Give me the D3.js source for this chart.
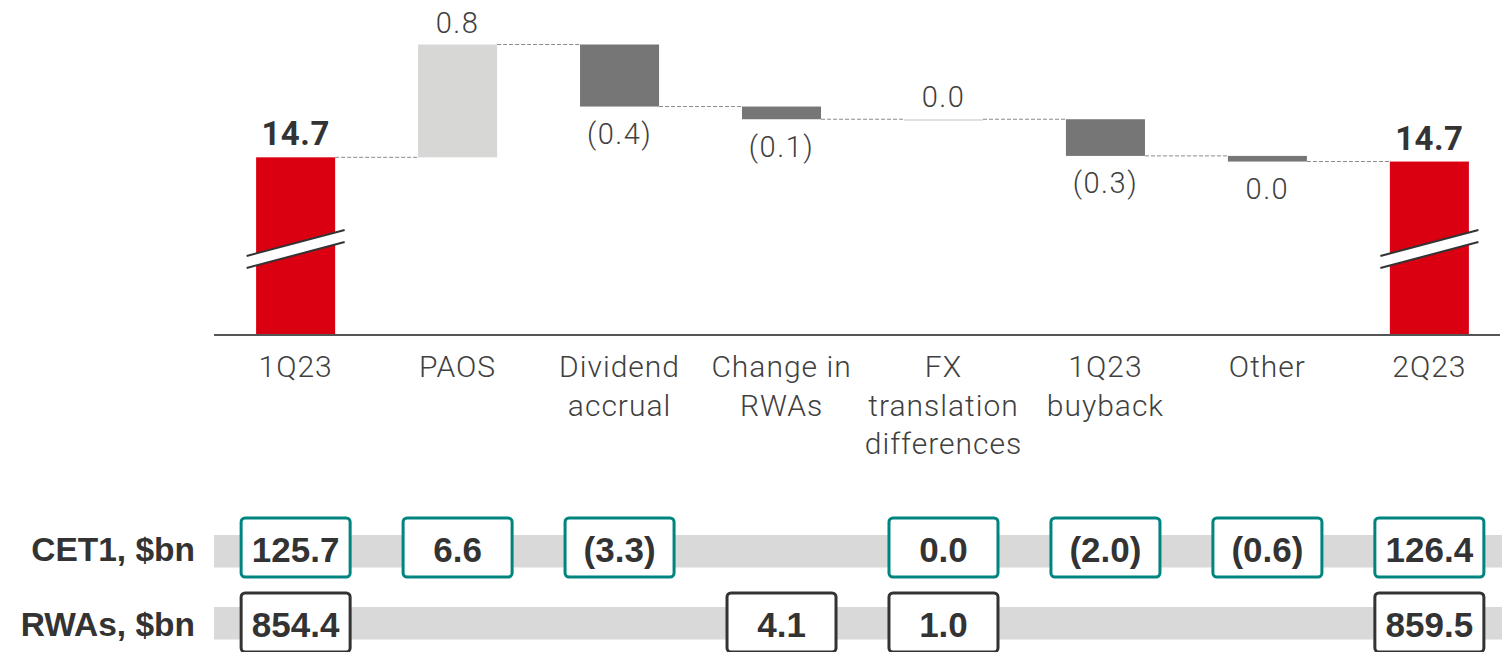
<!DOCTYPE html>
<html>
<head>
<meta charset="utf-8">
<script src="https://cdn.jsdelivr.net/npm/d3@7"></script>
<style>
  body { margin: 0; background: #fff; }
  svg { display: block; }
</style>
</head>
<body>
<svg></svg>
<script>
// categories and values (CET1 ratio walk, %)
var categories = ["1Q23", "PAOS", "Dividend accrual", "Change in RWAs", "FX translation differences", "1Q23 buyback", "Other", "2Q23"];
var labelLines = [["1Q23"], ["PAOS"], ["Dividend", "accrual"], ["Change in", "RWAs"], ["FX", "translation", "differences"], ["1Q23", "buyback"], ["Other"], ["2Q23"]];
var isTotal = [true, false, false, false, false, false, false, true];
var values = [14.72, 0.80, -0.44, -0.09, 0.00, -0.26, -0.04, 14.69];

// table rows under the chart
var cet1Values = [125.7, 6.6, -3.3, null, 0.0, -2.0, -0.6, 126.4];
var rwaValues = [854.4, null, null, 4.1, 1.0, null, null, 859.5];

var svgWidth = 1502, svgHeight = 652;
var axisY = 335;

var svg = d3.select("svg")
            .attr("width", svgWidth)
            .attr("height", svgHeight);

var x = d3.scaleBand()
          .domain(categories)
          .range([214, 1511])
          .paddingInner(0.512)
          .paddingOuter(0.26);

// axis is broken (see marks on total bars), so it starts near 13.46
var y = d3.scaleLinear()
          .domain([13.46, 15.52])
          .range([axisY, 44.5]);

function fmt(v) {
  var r = Math.round(v * 10) / 10;
  var s = d3.format(".1f")(Math.abs(r));
  return r < 0 ? "(" + s + ")" : s;
}

// build the walk
var running = 0;
var steps = values.map(function(v, i) {
  var s;
  if (isTotal[i]) {
    s = {cat: categories[i], v: v, from: y.domain()[0], to: v, total: true};
    running = v;
  } else {
    s = {cat: categories[i], v: v, from: running, to: running + v, total: false};
    running = running + v;
  }
  s.level = s.to;
  return s;
});

var chart = svg.append("g");

// connectors
chart.selectAll("line.conn")
     .data(steps.slice(0, -1))
     .enter()
     .append("line")
     .attr("x1", function(d) {return x(d.cat) + x.bandwidth();})
     .attr("x2", function(d, i) {return x(categories[i + 1]);})
     .attr("y1", function(d) {return y(d.level);})
     .attr("y2", function(d) {return y(d.level);})
     .attr("stroke", "#8a8a8a")
     .attr("stroke-width", 1)
     .attr("stroke-dasharray", "4,2");

// bars
chart.selectAll("rect.bar")
     .data(steps)
     .enter()
     .append("rect")
     .attr("x", function(d) {return x(d.cat);})
     .attr("width", x.bandwidth())
     .attr("y", function(d) {return Math.min(y(d.from), y(d.to));})
     .attr("height", function(d) {return Math.max(Math.abs(y(d.from) - y(d.to)), 1.5);})
     .attr("fill", function(d) {
       if (d.total) return "#db0011";
       return d.v >= 0 ? "#d7d7d5" : "#767676";
     });

// axis line
chart.append("line")
     .attr("x1", 214).attr("x2", 1500)
     .attr("y1", axisY).attr("y2", axisY)
     .attr("stroke", "#555")
     .attr("stroke-width", 2);

// break marks on total bars
var breaks = chart.selectAll("g.brk")
     .data(steps.filter(function(d) {return d.total;}))
     .enter()
     .append("g")
     .attr("transform", function(d) {return "translate(" + (x(d.cat) + x.bandwidth() / 2) + ",249)";});
breaks.append("polygon")
      .attr("points", "-49,7 49,-19 49,-7 -49,19")
      .attr("fill", "#fff");
breaks.append("line")
      .attr("x1", -49).attr("y1", 7).attr("x2", 49).attr("y2", -19)
      .attr("stroke", "#333").attr("stroke-width", 2);
breaks.append("line")
      .attr("x1", -49).attr("y1", 19).attr("x2", 49).attr("y2", -7)
      .attr("stroke", "#333").attr("stroke-width", 2);

// value labels
chart.selectAll("text.val")
     .data(steps)
     .enter()
     .append("text")
     .attr("x", function(d) {return x(d.cat) + x.bandwidth() / 2;})
     .attr("y", function(d) {
       if (d.v >= 0 || d.total) return y(Math.max(d.from, d.to)) - 12;
       return y(Math.min(d.from, d.to)) + 37.5;
     })
     .attr("text-anchor", "middle")
     .attr("font-family", "Roboto, 'Liberation Sans', sans-serif")
     .attr("font-weight", function(d) {return d.total ? 700 : 300;})
     .attr("font-size", function(d) {return d.total ? 33 : 29;})
     .attr("letter-spacing", function(d) {return d.total ? 0.5 : 1.5;})
     .attr("fill", function(d) {return d.total ? "#333" : "#404040";})
     .text(function(d) {return fmt(d.v);});

// category labels
var catText = chart.selectAll("text.cat")
     .data(categories)
     .enter()
     .append("text")
     .attr("x", function(d) {return x(d) + x.bandwidth() / 2;})
     .attr("y", 377)
     .attr("text-anchor", "middle")
     .attr("font-family", "Roboto, 'Liberation Sans', sans-serif")
     .attr("font-weight", 300)
     .attr("font-size", 30)
     .attr("letter-spacing", 1)
     .attr("fill", "#404040");
catText.selectAll("tspan")
       .data(function(d, i) {return labelLines[i];})
       .enter()
       .append("tspan")
       .attr("x", function() {return d3.select(this.parentNode).attr("x");})
       .attr("dy", function(d, i) {return i === 0 ? 0 : 38.5;})
       .text(function(d) {return d;});

// table rows
var rows = [
  {name: "CET1, $bn", vals: cet1Values, color: "#00847f", bandY: 535, boxY: 518},
  {name: "RWAs, $bn", vals: rwaValues, color: "#333333", bandY: 607, boxY: 593}
];

rows.forEach(function(row) {
  var g = svg.append("g");
  g.append("rect")
   .attr("x", 214).attr("y", row.bandY)
   .attr("width", svgWidth - 214).attr("height", 32.5)
   .attr("fill", "#d9d9d9");
  g.append("text")
   .attr("x", 195).attr("y", row.boxY + 42.5)
   .attr("text-anchor", "end")
   .attr("font-family", "'Liberation Sans', Arial, sans-serif")
   .attr("font-weight", 700)
   .attr("font-size", 33.5)
   .attr("fill", "#333")
   .text(row.name);

  var cells = row.vals.map(function(v, i) {return {cat: categories[i], v: v};})
                      .filter(function(d) {return d.v !== null;});
  var box = g.selectAll("g.cell")
             .data(cells)
             .enter()
             .append("g")
             .attr("transform", function(d) {return "translate(" + (x(d.cat) + x.bandwidth() / 2) + "," + row.boxY + ")";});
  box.append("rect")
     .attr("x", -54.5).attr("y", 0)
     .attr("width", 109).attr("height", 59)
     .attr("rx", 4)
     .attr("fill", "#fff")
     .attr("stroke", row.color)
     .attr("stroke-width", 3);
  box.append("text")
     .attr("x", 0).attr("y", 43.5)
     .attr("text-anchor", "middle")
     .attr("font-family", "'Liberation Sans', Arial, sans-serif")
     .attr("font-weight", 700)
     .attr("font-size", 35)
     .attr("fill", "#333")
     .text(function(d) {return fmt(d.v);});
});
</script>
</body>
</html>
